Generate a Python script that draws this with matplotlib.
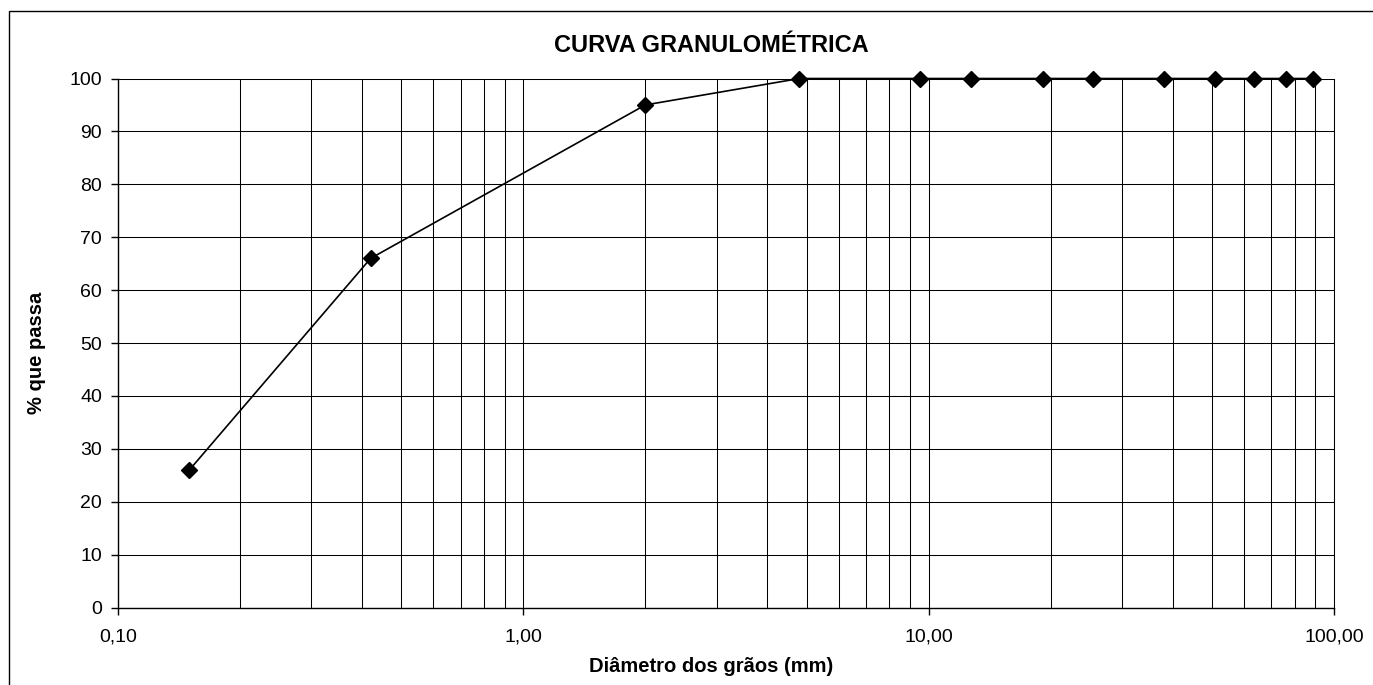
import matplotlib.pyplot as plt
from matplotlib.patches import Rectangle
from matplotlib.ticker import FixedLocator, FuncFormatter, NullFormatter
import numpy as np

# sieve openings (mm) and percent passing
diametro = [0.15, 0.42, 2.0, 4.8, 9.5, 12.7, 19.1, 25.4, 38.1, 50.8, 63.5, 76.2, 88.9]
passa = [26, 66, 95, 100, 100, 100, 100, 100, 100, 100, 100, 100, 100]

titulo = 'CURVA GRANULOMÉTRICA'
xlabel = 'Diâmetro dos grãos (mm)'
ylabel = '% que passa'

plt.rcParams['font.family'] = ['Liberation Sans', 'DejaVu Sans']

W, H = 1373, 685
fig = plt.figure(figsize=(W / 100, H / 100), dpi=100)
ax = fig.add_axes([118 / W, 1 - 607.5 / H, (1334 - 118) / W, (607.5 - 78.5) / H])

# outer chart frame
fig.patches.append(Rectangle((8.5 / W, -0.02), 1.0, 1 - 10.5 / H + 0.02,
                             transform=fig.transFigure, fill=False,
                             edgecolor='black', linewidth=1.0))

ax.plot(diametro, passa, color='black', linewidth=1.2, marker='D',
        markersize=8, markerfacecolor='black', markeredgecolor='black',
        zorder=5, clip_on=False)

ax.set_xscale('log')
ax.set_xlim(0.1, 100)
ax.set_ylim(0, 100)

majors = [0.1, 1, 10, 100]
minors = [m * d for d in [0.1, 1, 10] for m in range(2, 10)]
ax.xaxis.set_major_locator(FixedLocator(majors))
ax.xaxis.set_minor_locator(FixedLocator(minors))
ax.xaxis.set_major_formatter(FuncFormatter(lambda v, p: f'{v:.2f}'.replace('.', ',')))
ax.xaxis.set_minor_formatter(NullFormatter())
ax.set_yticks(np.arange(0, 101, 10))

ax.grid(True, which='both', axis='x', color='black', linewidth=0.75)
ax.grid(True, which='major', axis='y', color='black', linewidth=0.75)
ax.set_axisbelow(True)

ax.spines['top'].set_visible(False)
ax.spines['right'].set_linewidth(0.75)
ax.spines['left'].set_linewidth(1.0)
ax.spines['bottom'].set_linewidth(1.0)

ax.tick_params(axis='both', which='major', direction='out', length=5, width=1,
               labelsize=14, colors='black')
ax.tick_params(axis='x', which='minor', length=0)
ax.tick_params(axis='x', pad=10)
ax.tick_params(axis='y', pad=6.5)

fig.text(711 / W, 1 - 52 / H, titulo, fontsize=17, fontweight='bold',
         ha='center', va='baseline')
fig.text(711 / W, 1 - 672 / H, xlabel, fontsize=14.5, fontweight='bold',
         ha='center', va='baseline')
fig.text(36 / W, 1 - 353 / H, ylabel, fontsize=14.5, fontweight='bold',
         ha='center', va='center', rotation=90)

fig.savefig('out.png', dpi=100)
